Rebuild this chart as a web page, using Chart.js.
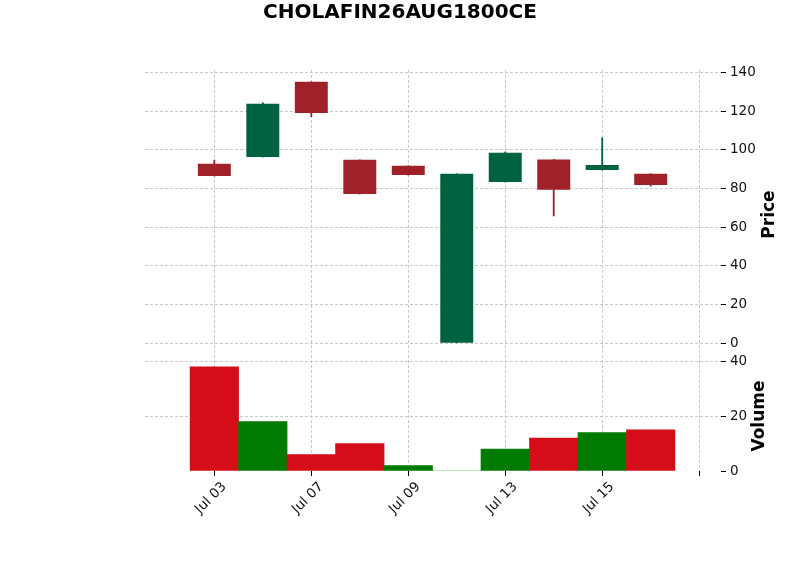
<!DOCTYPE html>
<html>
<head>
<meta charset="utf-8">
<script src="https://cdn.jsdelivr.net/npm/chart.js@4.4.1/dist/chart.umd.min.js"></script>
<style>
  html, body { margin: 0; padding: 0; background: #fff; }
</style>
</head>
<body>
<canvas id="myChart" width="800" height="575"></canvas>
<script>
// Datos (velas diarias + volumen)
const fechas = ["Jul 03", "Jul 06", "Jul 07", "Jul 08", "Jul 09", "Jul 10", "Jul 13", "Jul 14", "Jul 15", "Jul 16"];
const aperturas = [92.8, 96.2, 135.1, 94.8, 91.7, 0, 83.3, 95.0, 89.5, 87.6];
const maximos = [94.7, 124.3, 135.1, 94.8, 91.7, 87.6, 98.8, 95.0, 106.2, 87.6];
const minimos = [86.4, 96.2, 117.1, 77.1, 86.9, 0, 83.3, 65.8, 89.5, 81.2];
const cierres = [86.4, 123.8, 119.0, 77.1, 86.9, 87.6, 98.5, 79.3, 92.1, 81.8];
const volumenes = [38, 18, 6, 10, 2, 0, 8, 12, 14, 15];
const ticksPrecio = [0, 20, 40, 60, 80, 100, 120, 140];
const ticksVolumen = [0, 20, 40];
const ticksX = [0, 2, 4, 6, 8, 10];
const titulo = "CHOLAFIN26AUG1800CE";

const VERDE = "#006340";
const ROJO = "#a02128";
const VOL_VERDE = "#007a00";
const VOL_ROJO = "#d50d18";
const GRID = "#c8c8c8";

const colorVela = aperturas.map((o, i) => (cierres[i] >= o ? VERDE : ROJO));
// el volumen se colorea comparando con el cierre anterior
const colorVolumen = cierres.map((c, i) => {
  if (i === 0) return c >= aperturas[0] ? VOL_VERDE : VOL_ROJO;
  return c >= cierres[i - 1] ? VOL_VERDE : VOL_ROJO;
});

Chart.defaults.font.family = "'DejaVu Sans', sans-serif";
Chart.defaults.color = "#111";

// Titulo centrado en la figura y titulos de ejes girados como en matplotlib
const textos = {
  id: "textos",
  afterDraw(chart) {
    const ctx = chart.ctx;
    const sp = chart.scales.y;
    const sv = chart.scales.yv;
    const right = chart.chartArea.right;
    ctx.save();
    ctx.fillStyle = "#000";
    ctx.textAlign = "center";
    ctx.font = "bold 20px 'DejaVu Sans'";
    ctx.textBaseline = "alphabetic";
    ctx.fillText(titulo, chart.width / 2, 17.5);

    ctx.font = "bold 17px 'DejaVu Sans'";
    ctx.textBaseline = "middle";
    [["Price", right + 49, (sp.top + sp.bottom) / 2 + 1],
     ["Volume", right + 39, (sv.top + sv.bottom) / 2 + 2]].forEach(([t, x, y]) => {
      ctx.save();
      ctx.translate(x, y);
      ctx.rotate(-Math.PI / 2);
      ctx.fillText(t, 0, 0);
      ctx.restore();
    });
    ctx.restore();
  },
};

const ctx = document.getElementById("myChart").getContext("2d");

new Chart(ctx, {
  type: "bar",
  data: {
    datasets: [
      {
        label: "mechas",
        data: fechas.map((f, i) => ({ x: i, y: [minimos[i], maximos[i]] })),
        backgroundColor: colorVela,
        barThickness: 1.2,
        grouped: false,
        yAxisID: "y",
        order: 2,
      },
      {
        label: "velas",
        data: fechas.map((f, i) => ({ x: i, y: [aperturas[i], cierres[i]] })),
        backgroundColor: colorVela,
        borderWidth: 0,
        barPercentage: 0.68,
        categoryPercentage: 1,
        grouped: false,
        yAxisID: "y",
        order: 1,
      },
      {
        label: "volumen",
        data: fechas.map((f, i) => ({ x: i, y: volumenes[i] })),
        backgroundColor: colorVolumen,
        barPercentage: 1,
        categoryPercentage: 1,
        grouped: false,
        yAxisID: "yv",
        order: 3,
      },
    ],
  },
  options: {
    responsive: false,
    animation: false,
    devicePixelRatio: 1,
    layout: { padding: { left: 145, right: 34, bottom: 44, top: 70 } },
    plugins: {
      legend: { display: false },
      tooltip: { enabled: false },
      title: { display: false },
    },
    scales: {
      x: {
        type: "linear",
        offset: false,
        min: -1.43,
        max: 10.45,
        afterBuildTicks: (s) => { s.ticks = ticksX.map((v) => ({ value: v })); },
        afterFit: (s) => { s.height = 60; },
        border: { display: false, dash: [3, 2] },
        grid: {
          offset: false,
          color: GRID,
          tickColor: "#000",
          tickBorderDash: [],
          tickLength: 5,
        },
        ticks: {
          autoSkip: false,
          minRotation: 45,
          maxRotation: 45,
          labelOffset: 10,
          font: { size: 13.5 },
          color: "#111",
          callback: (v) => fechas[v] || "",
        },
      },
      y: {
        type: "linear",
        position: "right",
        stack: "panel",
        stackWeight: 287,
        min: -7.08,
        max: 141.2,
        afterBuildTicks: (s) => { s.ticks = ticksPrecio.map((v) => ({ value: v })); },
        afterFit: (s) => { s.width = 45; },
        border: { display: false, dash: [3, 2] },
        grid: {
          color: GRID,
          tickColor: "#000",
          tickBorderDash: [],
          tickLength: 5,
        },
        ticks: { font: { size: 13.5 }, color: "#111", padding: 4 },
      },
      yv: {
        type: "linear",
        position: "right",
        stack: "panel",
        stackWeight: 114,
        min: 0,
        max: 41.57,
        afterBuildTicks: (s) => { s.ticks = ticksVolumen.map((v) => ({ value: v })); },
        afterFit: (s) => { s.width = 45; },
        border: { display: false, dash: [3, 2] },
        grid: {
          color: (c) => (c.tick && c.tick.value === 0 ? "rgba(0,0,0,0)" : GRID),
          tickColor: "#000",
          tickBorderDash: [],
          tickLength: 5,
        },
        ticks: { font: { size: 13.5 }, color: "#111", padding: 4 },
      },
    },
  },
  plugins: [textos],
});
</script>
</body>
</html>
